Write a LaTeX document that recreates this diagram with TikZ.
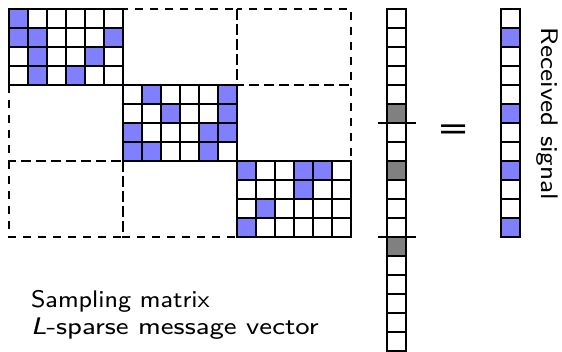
\documentclass[tikz,border=0pt]{standalone}
\usepackage{graphicx}
\usepackage{fontspec}
\newfontfamily\eqfont{DejaVu Sans}
\definecolor{cellblue}{RGB}{128,128,255}
\definecolor{cellgray}{RGB}{128,128,128}
\tikzset{
  cellline/.style={draw=black, line width=1.6pt},
  blockdash/.style={draw=black, line width=1.4pt, dash pattern=on 8pt off 7pt},
  sepline/.style={draw=black, line width=1.4pt},
  lbl/.style={inner sep=0pt, outer sep=0pt},
}
\newcommand{\sftxt}[3]{\scalebox{#1}[#2]{\fontsize{8}{9.6}\selectfont\sffamily #3}}
\begin{document}
\begin{tikzpicture}[x=1pt,y=-1pt]
\useasboundingbox (0,0) rectangle (562,352);
% dashed 3x3 block grid
\foreach \i in {0,1,2}{
  \foreach \j in {0,1,2}{
    \draw[blockdash] (9+114*\i,9+76*\j) rectangle ++(114,76);
  }
}
% block fills: list of (col,row) within block, block index b
\foreach \b/\cells in {0/{0/0,0/1,1/1,5/1,1/2,4/2,1/3,3/3},
                       1/{1/0,5/0,2/1,5/1,0/2,4/2,5/2,0/3,1/3,4/3},
                       2/{0/0,3/0,4/0,3/1,1/2,0/3}}{
  \foreach \c/\r in \cells{
    \fill[cellblue] (9+114*\b+19*\c,9+76*\b+19*\r) rectangle ++(19,19);
  }
  \foreach \c in {0,...,5}{
    \foreach \r in {0,...,3}{
      \draw[cellline] (9+114*\b+19*\c,9+76*\b+19*\r) rectangle ++(19,19);
    }
  }
}
% message vector
\foreach \k in {5,8,12}{
  \fill[cellgray] (387,9+19*\k) rectangle ++(19,19);
}
\foreach \k in {0,...,17}{
  \draw[cellline] (387,9+19*\k) rectangle ++(19,19);
}
\coordinate (s1l) at (378,123);
\coordinate (s1r) at (416,123);
\coordinate (s2l) at (378,237);
\coordinate (s2r) at (416,237);
\draw[sepline] (s1l) -- (s1r);
\draw[sepline] (s2l) -- (s2r);
% received vector
\foreach \k in {1,5,8,11}{
  \fill[cellblue] (501,9+19*\k) rectangle ++(19,19);
}
\foreach \k in {0,...,11}{
  \draw[cellline] (501,9+19*\k) rectangle ++(19,19);
}
% equals sign
\node[lbl] (eq) at (454,132.5) {\scalebox{1.37}[1.15]{\fontsize{28}{28}\selectfont\eqfont =}};
% labels
\node[lbl, anchor=base west] (samp) at (31,308) {\sftxt{3.07}{3.0}{Sampling matrix}};
\node[lbl, anchor=base west] (lsp) at (31,335) {\sftxt{3.38}{3.0}{\textsl{L}-sparse message vector}};
\node[lbl, anchor=base west, rotate=-90] (recv) at (541,28) {\sftxt{3.2}{3.0}{Received signal}};
\end{tikzpicture}
\end{document}
